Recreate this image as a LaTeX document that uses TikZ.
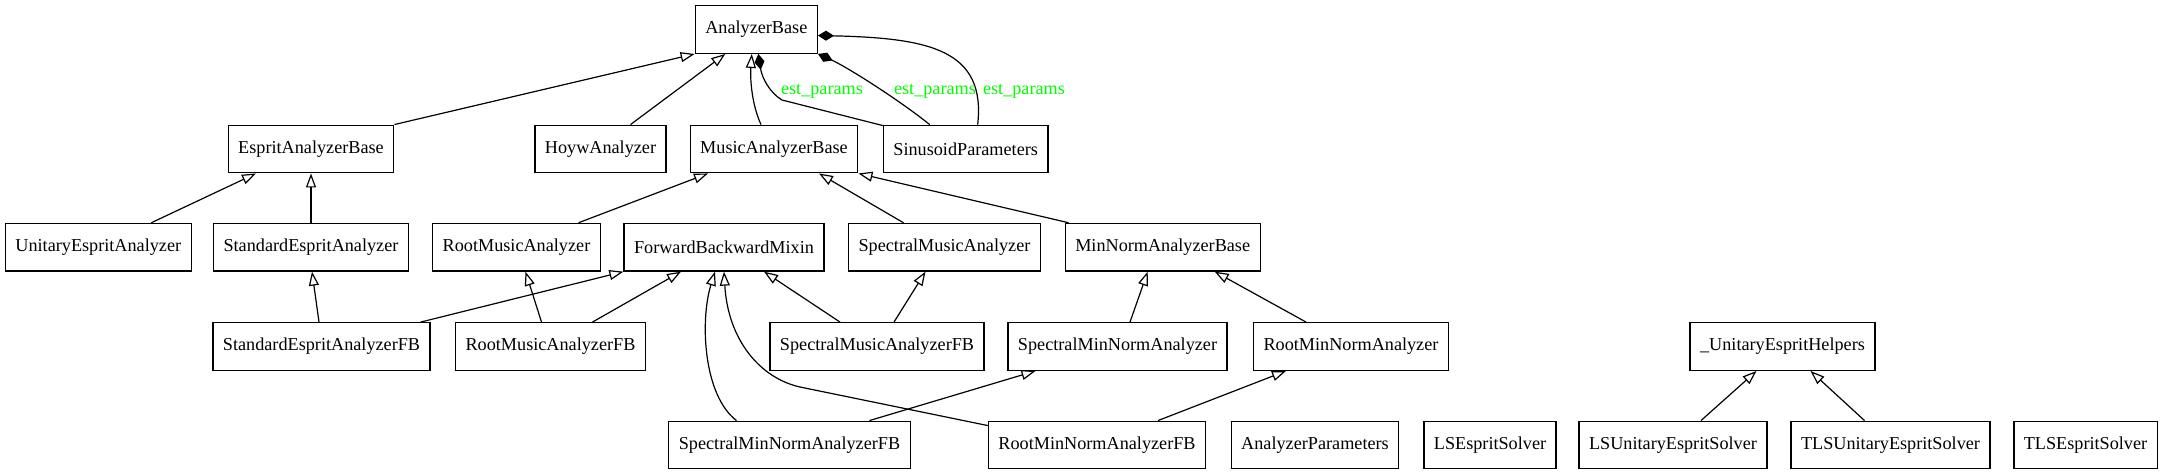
\documentclass[tikz,border=0pt]{standalone}
\usepackage{fontspec}
\setmainfont{Liberation Serif}
\usetikzlibrary{arrows.meta}
\definecolor{lblgreen}{RGB}{0,255,0}
\tikzset{
  cls/.style={draw=black, line width=1.3pt, fill=white, inner xsep=10pt, inner ysep=0pt,
    minimum height=47.6pt, font=\fontsize{18.2}{20}\selectfont},
  inh/.style={line width=1.2pt, -{Triangle[open, length=14pt, width=10pt, line width=1.2pt]}},
  comp/.style={line width=1.2pt, -{Diamond[length=16pt, width=10pt]}},
  lbl/.style={text=lblgreen, font=\fontsize{18.2}{20}\selectfont, inner sep=0pt}
}
\begin{document}
\begin{tikzpicture}[x=1pt, y=-1pt]
\useasboundingbox (0,0) rectangle (2163,475);
% row 1
\node[cls] (ab) at (756.3,29.5) {AnalyzerBase};
% row 2
\node[cls] (eab) at (311,149) {EspritAnalyzerBase};
\node[cls] (hoyw) at (600.5,149) {HoywAnalyzer};
\node[cls] (mab) at (774,149) {MusicAnalyzerBase};
\node[cls] (sin) at (965.7,149) {SinusoidParameters};
% row 3
\node[cls] (uea) at (98.3,247.2) {UnitaryEspritAnalyzer};
\node[cls] (sea) at (311,247.2) {StandardEspritAnalyzer};
\node[cls] (rma) at (516.5,247.2) {RootMusicAnalyzer};
\node[cls] (fbm) at (724,247.2) {ForwardBackwardMixin};
\node[cls] (sma) at (944.5,247.2) {SpectralMusicAnalyzer};
\node[cls] (mnb) at (1162.7,247.2) {MinNormAnalyzerBase};
% row 4
\node[cls] (seafb) at (321.5,346.5) {StandardEspritAnalyzerFB};
\node[cls] (rmafb) at (550.5,346.5) {RootMusicAnalyzerFB};
\node[cls] (smafb) at (877,346.5) {SpectralMusicAnalyzerFB};
\node[cls] (smn) at (1117.5,346.5) {SpectralMinNormAnalyzer};
\node[cls] (rmn) at (1351,346.5) {RootMinNormAnalyzer};
\node[cls] (ueh) at (1782.5,346.5) {\_UnitaryEspritHelpers};
% row 5
\node[cls] (smnfb) at (789.5,445) {SpectralMinNormAnalyzerFB};
\node[cls] (rmnfb) at (1097,445) {RootMinNormAnalyzerFB};
\node[cls] (ap) at (1315,445) {AnalyzerParameters};
\node[cls] (lses) at (1490,445) {LSEspritSolver};
\node[cls] (lsues) at (1673,445) {LSUnitaryEspritSolver};
\node[cls] (tlsues) at (1890.5,445) {TLSUnitaryEspritSolver};
\node[cls] (tlses) at (2085.5,445) {TLSEspritSolver};

% inheritance to AnalyzerBase
\draw[inh] (eab.north east) -- (ab.south west);
\draw[inh] ([xshift=30pt]hoyw.north) -- ([xshift=-31pt]ab.south);
\draw[inh] ([xshift=-13pt]mab.north) .. controls (752,105) and (750,80) .. ([xshift=-4.5pt]ab.south);
% composition
\coordinate (c1) at (782,100);
\draw[comp] ([yshift=-1pt]sin.north west) -- (c1) .. controls (770,93) and (762,78) .. ([xshift=2pt]ab.south);
\draw[comp] ([xshift=-36pt]sin.north) .. controls (895,97) and (845,66) .. (ab.south east);
\draw[comp] ([xshift=12pt]sin.north) .. controls (986,50) and (930,38) .. ([yshift=-6pt]ab.east);
\node[lbl] (l1) at (822,91) {est\_params};
\node[lbl] (l2) at (935,91) {est\_params};
\node[lbl] (l3) at (1024,91) {est\_params};

% to EspritAnalyzerBase
\draw[inh] ([xshift=53pt]uea.north) -- ([xshift=-55pt]eab.south);
\draw[inh] (sea.north) -- (eab.south);
% to MusicAnalyzerBase
\draw[inh] ([xshift=62pt]rma.north) -- ([xshift=-66pt]mab.south);
\draw[inh] ([xshift=-41pt]sma.north) -- ([xshift=45pt]mab.south);
\draw[inh] ([xshift=4pt]mnb.north west) -- (mab.south east);

% row 4 to row 3
\draw[inh] ([xshift=-2.5pt]seafb.north) -- ([xshift=1pt]sea.south);
\draw[inh] ([xshift=-10pt]seafb.north east) -- (fbm.south west);
\draw[inh] ([xshift=-9pt]rmafb.north) -- ([xshift=9pt]rma.south);
\draw[inh] ([xshift=42pt]rmafb.north) -- ([xshift=-43pt]fbm.south);
\draw[inh] ([xshift=-37pt]smafb.north) -- ([xshift=40pt]fbm.south);
\draw[inh] ([xshift=17pt]smafb.north) -- ([xshift=-19pt]sma.south);
\draw[inh] ([xshift=12.5pt]smn.north) -- ([xshift=-15pt]mnb.south);
\draw[inh] ([xshift=-45pt]rmn.north) -- ([xshift=52pt]mnb.south);

% row 5
\draw[inh] ([xshift=-53pt]smnfb.north) .. controls (703,395) and (700,320) .. ([xshift=-9pt]fbm.south);
\coordinate (c2) at (800,387);
\draw[inh] ([yshift=-5pt]rmnfb.north west) -- (c2) .. controls (760,378) and (728,340) .. ([xshift=0pt]fbm.south);
\draw[inh] ([xshift=80pt]smnfb.north) -- ([xshift=-82pt]smn.south);
\draw[inh] ([xshift=61pt]rmnfb.north) -- ([xshift=-65pt]rmn.south);
\draw[inh] ([xshift=28pt]lsues.north) -- ([xshift=-26pt]ueh.south);
\draw[inh] ([xshift=-26pt]tlsues.north) -- ([xshift=28pt]ueh.south);
\end{tikzpicture}
\end{document}
